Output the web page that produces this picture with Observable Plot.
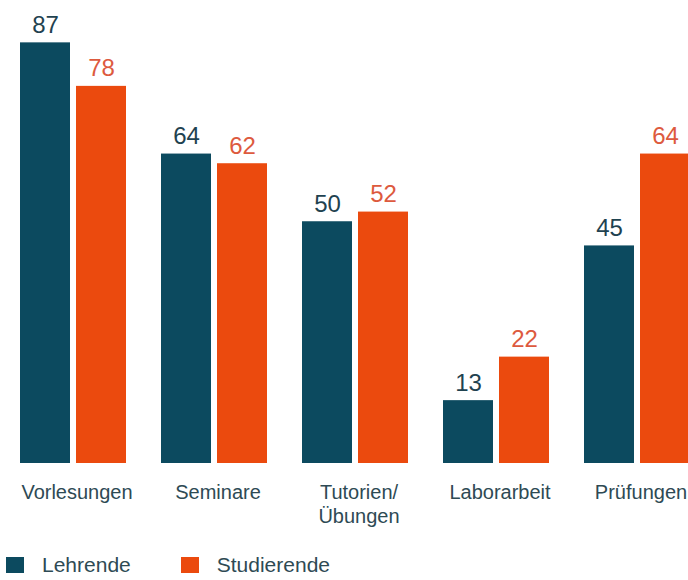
<!DOCTYPE html>
<html>
<head>
<meta charset="utf-8">
<script src="https://cdn.jsdelivr.net/npm/d3@7"></script>
<script src="https://cdn.jsdelivr.net/npm/@observablehq/plot@0.6"></script>
<style>
  html, body { margin: 0; padding: 0; background: #fff; overflow: hidden; }
  #wrap { width: 688px; overflow: hidden; font-family: "Liberation Sans", Arial, sans-serif; }
  #chart svg { max-width: none !important; height: 530px !important; width: 700px !important; display: block; }
  #legend { display: flex; align-items: center; height: 20px; margin-top: 25px; font-size: 21px; color: #2e4a54; }
  .sw { width: 18px; height: 16px; display: inline-block; }
  .item { display: flex; align-items: center; }
</style>
</head>
<body>
<div id="wrap">
  <div id="chart"></div>
  <div id="legend"></div>
</div>
<script>
const categories = ["Vorlesungen", "Seminare", "Tutorien/\nÜbungen", "Laborarbeit", "Prüfungen"];
const seriesNames = ["Lehrende", "Studierende"];
const lehrende = [87, 64, 50, 13, 45];
const studierende = [78, 62, 52, 22, 64];
const barColors = ["#0c4a5f", "#eb4a0e"];
const labelColors = ["#1f4250", "#dd5a3e"];

const data = [];
categories.forEach((c, i) => {
  data.push({cat: c, series: seriesNames[0], value: lehrende[i]});
  data.push({cat: c, series: seriesNames[1], value: studierende[i]});
});

const chart = Plot.plot({
  width: 700,
  height: 530,
  marginLeft: 17,
  marginRight: 7,
  marginTop: 0,
  marginBottom: 67,
  style: {fontFamily: "Liberation Sans, Arial, sans-serif", background: "#fff", overflow: "visible", maxWidth: "none"},
  fx: {domain: categories, paddingInner: 0.2394, paddingOuter: 0, axis: null, label: null},
  x: {domain: seriesNames, paddingInner: 0.115, paddingOuter: 0, axis: null},
  y: {domain: [0, 95.76], axis: null},
  color: {domain: seriesNames, range: barColors},
  marks: [
    Plot.barY(data, {fx: "cat", x: "series", y: "value", fill: "series"}),
    Plot.text(data, {filter: d => d.series === seriesNames[0], fx: "cat", x: "series", y: "value",
      text: d => String(d.value), lineAnchor: "bottom", dy: -10, fontSize: 24, fill: labelColors[0]}),
    Plot.text(data, {filter: d => d.series === seriesNames[1], fx: "cat", x: "series", y: "value",
      text: d => String(d.value), lineAnchor: "bottom", dy: -10, fontSize: 24, fill: labelColors[1]}),
    Plot.axisFx({anchor: "bottom", tickSize: 0, tickPadding: 19, fontSize: 20, lineHeight: 1.17,
      dx: 4, fill: "#2e4a54", label: null})
  ]
});
document.getElementById("chart").appendChild(chart);

const legend = document.getElementById("legend");
seriesNames.forEach((s, i) => {
  const item = document.createElement("div");
  item.className = "item";
  item.style.marginLeft = i === 0 ? "6px" : "50px";
  const sw = document.createElement("span");
  sw.className = "sw";
  sw.style.background = barColors[i];
  const t = document.createElement("span");
  t.textContent = s;
  t.style.marginLeft = "18px";
  item.appendChild(sw);
  item.appendChild(t);
  legend.appendChild(item);
});
</script>
</body>
</html>
